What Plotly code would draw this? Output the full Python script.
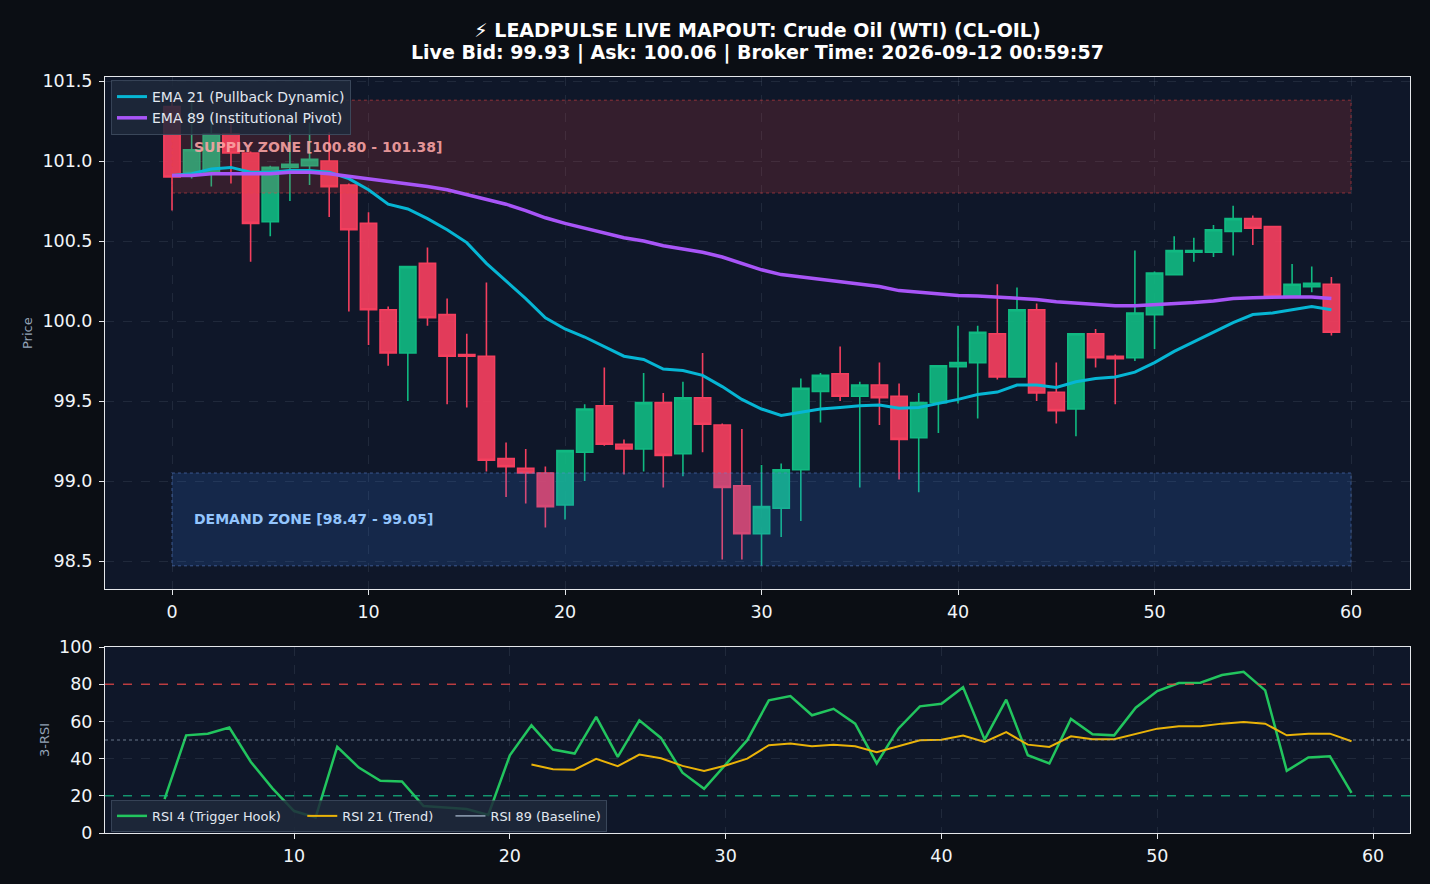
import plotly.graph_objects as go

# ---------------- data ----------------
bars = list(range(60))
opens = [101.34, 100.93, 100.93, 101.17, 101.05, 100.62, 100.96, 100.97, 101.00, 100.85,
         100.61, 100.07, 99.80, 100.36, 100.04, 99.79, 99.78, 99.14, 99.08, 99.05,
         98.85, 99.18, 99.47, 99.23, 99.20, 99.49, 99.17, 99.52, 99.35, 98.97,
         98.67, 98.83, 99.07, 99.56, 99.67, 99.53, 99.60, 99.53, 99.27, 99.49,
         99.715, 99.74, 99.92, 99.65, 100.07, 99.555, 99.45, 99.92, 99.78, 99.77,
         100.04, 100.29, 100.43, 100.43, 100.56, 100.64, 100.59, 100.15, 100.215, 100.23]
highs = [101.37, 101.38, 101.31, 101.25, 101.06, 100.97, 101.18, 101.24, 101.18, 100.86,
         100.68, 100.09, 100.34, 100.46, 100.14, 99.92, 100.24, 99.24, 99.20, 99.09,
         99.19, 99.48, 99.71, 99.26, 99.675, 99.55, 99.62, 99.80, 99.36, 99.325,
         99.10, 99.11, 99.64, 99.675, 99.84, 99.62, 99.74, 99.61, 99.55, 99.72,
         99.97, 99.97, 100.23, 100.21, 100.11, 99.74, 99.92, 99.95, 99.79, 100.44,
         100.31, 100.53, 100.52, 100.60, 100.72, 100.66, 100.59, 100.356, 100.34, 100.275]
lows = [100.69, 100.89, 100.84, 100.86, 100.37, 100.53, 100.75, 100.85, 100.65, 100.06,
        99.85, 99.72, 99.50, 99.97, 99.48, 99.46, 99.06, 98.90, 98.86, 98.71,
        98.76, 99.00, 99.22, 99.04, 99.06, 98.96, 99.03, 99.18, 98.51, 98.51,
        98.47, 98.65, 98.75, 99.365, 99.50, 98.96, 99.35, 99.01, 98.93, 99.30,
        99.485, 99.39, 99.635, 99.65, 99.50, 99.36, 99.28, 99.71, 99.48, 99.75,
        99.825, 100.29, 100.37, 100.40, 100.41, 100.475, 100.155, 100.15, 100.18, 99.91]
closes = [100.90, 101.07, 101.17, 101.05, 100.61, 100.96, 100.98, 101.01, 100.84, 100.57,
          100.07, 99.80, 100.34, 100.02, 99.78, 99.78, 99.13, 99.09, 99.05, 98.84,
          99.19, 99.45, 99.23, 99.20, 99.49, 99.16, 99.52, 99.355, 98.96, 98.67,
          98.84, 99.07, 99.58, 99.66, 99.53, 99.60, 99.52, 99.26, 99.49, 99.72,
          99.74, 99.93, 99.65, 100.07, 99.55, 99.44, 99.92, 99.77, 99.765, 100.05,
          100.30, 100.44, 100.44, 100.57, 100.64, 100.58, 100.16, 100.23, 100.235, 99.93]

ema21 = [100.91, 100.92, 100.95, 100.96, 100.93, 100.93, 100.94, 100.94, 100.93, 100.89,
         100.82, 100.73, 100.70, 100.64, 100.57, 100.49, 100.36, 100.25, 100.14, 100.02,
         99.95, 99.90, 99.84, 99.78, 99.76, 99.70, 99.69, 99.66, 99.59, 99.51,
         99.45, 99.41, 99.43, 99.45, 99.46, 99.47, 99.475, 99.455, 99.46, 99.485,
         99.51, 99.54, 99.556, 99.60, 99.60, 99.585, 99.62, 99.64, 99.65, 99.68,
         99.74, 99.81, 99.87, 99.93, 99.99, 100.04, 100.05, 100.07, 100.09, 100.07]
ema89 = [100.91, 100.91, 100.92, 100.92, 100.92, 100.92, 100.93, 100.93, 100.92, 100.905,
         100.89, 100.87, 100.86, 100.84, 100.82, 100.79, 100.76, 100.73, 100.69, 100.645,
         100.61, 100.58, 100.55, 100.52, 100.50, 100.47, 100.45, 100.43, 100.40, 100.36,
         100.32, 100.29, 100.275, 100.26, 100.245, 100.23, 100.215, 100.19, 100.18, 100.17,
         100.16, 100.156, 100.15, 100.146, 100.135, 100.12, 100.11, 100.10, 100.095, 100.095,
         100.10, 100.11, 100.115, 100.125, 100.14, 100.146, 100.15, 100.15, 100.15, 100.14]

supply_zone = [100.80, 101.38]
demand_zone = [98.47, 99.05]
zone_span = [0, 60]

rsi4_x = list(range(4, 60))
rsi4 = [18.2, 52.5, 53.4, 56.7, 38.2, 24.0, 11.8, 8.4, 46.3, 35.2,
        28.1, 27.7, 14.5, 13.8, 12.9, 9.7, 41.8, 57.9, 44.9, 42.7,
        62.4, 40.9, 60.6, 51.1, 32.4, 23.8, 37.0, 49.9, 71.3, 73.6,
        63.3, 66.8, 58.8, 37.4, 56.1, 68.1, 69.5, 78.4, 50.2, 71.7,
        41.8, 37.4, 61.3, 53.1, 52.5, 67.4, 76.3, 80.6, 80.8, 84.9,
        86.7, 76.7, 33.4, 40.6, 41.3, 21.6]
rsi21_x = list(range(21, 60))
rsi21 = [36.8, 34.3, 34.0, 39.9, 35.9, 42.2, 40.2, 36.1, 33.4, 36.3,
         40.0, 47.2, 48.1, 46.6, 47.4, 46.6, 43.4, 46.6, 49.9, 50.2,
         52.4, 49.0, 54.2, 47.5, 46.3, 52.0, 50.4, 50.4, 53.4, 56.1,
         57.4, 57.4, 58.8, 59.7, 58.8, 52.5, 53.4, 53.4, 49.3]
rsi89_x = [59]
rsi89 = [None]
rsi_levels = {"over": 80, "mid": 50, "under": 20}

title_line1 = "⚡ LEADPULSE LIVE MAPOUT: Crude Oil (WTI) (CL-OIL)"
title_line2 = "Live Bid: 99.93 | Ask: 100.06 | Broker Time: 2026-09-12 00:59:57"

# ---------------- figure ----------------
W, H = 1430, 884
PAPER = "#0b0e14"
PLOT = "#0f1729"
AXC = "#e5e7eb"
FONT = "DejaVu Sans"
NB = "\u00a0"

fig = go.Figure()

fig.add_trace(go.Candlestick(
    x=bars, open=opens, high=highs, low=lows, close=closes,
    increasing=dict(fillcolor="rgba(16,185,129,0.92)", line=dict(color="#10b981", width=1.6)),
    decreasing=dict(fillcolor="rgba(244,63,94,0.92)", line=dict(color="#f43f5e", width=1.6)),
    whiskerwidth=0, showlegend=False, xaxis="x", yaxis="y", hoverinfo="skip"))


def zone_trace(lo_hi, fill, line):
    lo, hi = lo_hi
    x0, x1 = zone_span
    return go.Scatter(x=[x0, x1, x1, x0, x0], y=[lo, lo, hi, hi, lo], mode="lines",
                      fill="toself", fillcolor=fill,
                      line=dict(color=line, width=1.5, dash="dot"),
                      showlegend=False, hoverinfo="skip", xaxis="x", yaxis="y")


fig.add_trace(zone_trace(supply_zone, "rgba(239,68,68,0.17)", "rgba(239,68,68,0.35)"))
fig.add_trace(zone_trace(demand_zone, "rgba(59,130,246,0.16)", "rgba(96,140,220,0.35)"))

fig.add_trace(go.Scatter(x=bars, y=ema21, mode="lines", name="EMA 21 (Pullback Dynamic)",
                         line=dict(color="#06b6d4", width=3), xaxis="x", yaxis="y"))
fig.add_trace(go.Scatter(x=bars, y=ema89, mode="lines", name="EMA 89 (Institutional Pivot)",
                         line=dict(color="#a855f7", width=3.5), xaxis="x", yaxis="y"))

# RSI panel
fig.add_trace(go.Scatter(x=rsi4_x, y=rsi4, mode="lines", name="RSI 4 (Trigger Hook)" + NB * 4,
                         line=dict(color="#22c55e", width=2.5), xaxis="x2", yaxis="y2", legend="legend2"))
fig.add_trace(go.Scatter(x=rsi21_x, y=rsi21, mode="lines", name="RSI 21 (Trend)" + NB * 3,
                         line=dict(color="#eab308", width=2), xaxis="x2", yaxis="y2", legend="legend2"))
fig.add_trace(go.Scatter(x=rsi89_x, y=rsi89, mode="lines", name="RSI 89 (Baseline)",
                         line=dict(color="#94a3b8", width=1.5), xaxis="x2", yaxis="y2", legend="legend2"))


def fx(px):
    return px / W


def fy(py):
    return 1 - py / H


axis_common = dict(showline=True, mirror=True, linecolor=AXC, linewidth=1,
                   ticks="outside", ticklen=5, tickcolor=AXC, tickwidth=1,
                   tickfont=dict(family=FONT, size=17.5, color="#f1f5f9"),
                   showgrid=True, gridcolor="rgba(148,163,184,0.13)", gridwidth=1, griddash="dash",
                   zeroline=False, automargin=False)

fig.update_layout(
    width=W, height=H, margin=dict(l=0, r=0, t=0, b=0, autoexpand=False),
    paper_bgcolor=PAPER, plot_bgcolor=PLOT,
    font=dict(family=FONT, color="#e5e7eb"),
    boxgap=0.1, boxgroupgap=0.08,
    title=dict(text=f"<b>{title_line1}</b>",
               x=fx(757.5), xanchor="center", y=fy(30), yanchor="middle",
               font=dict(family=FONT, size=19, color="#ffffff")),
    xaxis=dict(domain=[fx(105), fx(1410)], anchor="y", range=[-3.41, 63.0],
               tickmode="array", tickvals=[0, 10, 20, 30, 40, 50, 60], ticklabelstandoff=2,
               rangeslider=dict(visible=False), **axis_common),
    yaxis=dict(domain=[fy(589), fy(77)], anchor="x", range=[98.325, 101.525],
               tickmode="array", tickvals=[98.5, 99.0, 99.5, 100.0, 100.5, 101.0, 101.5],
               tickformat=".1f", ticklabelstandoff=3, **axis_common),
    xaxis2=dict(domain=[fx(105), fx(1410)], anchor="y2", range=[1.24, 61.71],
                tickmode="array", tickvals=[10, 20, 30, 40, 50, 60], ticklabelstandoff=2, **axis_common),
    yaxis2=dict(domain=[fy(833), fy(647)], anchor="x2", range=[0, 100],
                tickmode="array", tickvals=[0, 20, 40, 60, 80, 100], ticklabelstandoff=3, **axis_common),
    legend=dict(x=fx(111), y=fy(80), xanchor="left", yanchor="top",
                bgcolor="rgba(30,41,59,0.85)", bordercolor="rgba(71,85,105,0.7)", borderwidth=1,
                font=dict(family=FONT, size=14, color="#e2e8f0"), tracegroupgap=0,
                itemwidth=30),
    legend2=dict(x=fx(111), y=fy(800), xanchor="left", yanchor="top", orientation="h",
                 bgcolor="rgba(30,41,59,0.85)", bordercolor="rgba(71,85,105,0.7)", borderwidth=1,
                 font=dict(family=FONT, size=12.9, color="#e2e8f0"), itemwidth=30),
    showlegend=True,
)

fig.add_annotation(x=fx(757.5), y=fy(52), xref="paper", yref="paper", xanchor="center", yanchor="middle",
                   text=f"<b>{title_line2}</b>", showarrow=False,
                   font=dict(family=FONT, size=19, color="#ffffff"))

# RSI reference levels
level_styles = [(rsi_levels["over"], "rgba(239,68,68,0.75)", "dash"),
                (rsi_levels["mid"], "rgba(148,163,184,0.45)", "dot"),
                (rsi_levels["under"], "rgba(16,185,129,0.75)", "dash")]
for lvl, col, dash in level_styles:
    fig.add_shape(type="line", xref="x2 domain", yref="y2", x0=0, x1=1, y0=lvl, y1=lvl,
                  line=dict(color=col, width=1.5, dash=dash), layer="above")

# zone labels
fig.add_annotation(x=1, y=sum(supply_zone) / 2, xref="x", yref="y", xanchor="left", yanchor="middle",
                   text=f"<b>SUPPLY ZONE [{supply_zone[0]:.2f} - {supply_zone[1]:.2f}]</b>", showarrow=False,
                   font=dict(family=FONT, size=14, color="rgba(252,165,165,0.9)"))
fig.add_annotation(x=1, y=sum(demand_zone) / 2, xref="x", yref="y", xanchor="left", yanchor="middle",
                   text=f"<b>DEMAND ZONE [{demand_zone[0]:.2f} - {demand_zone[1]:.2f}]</b>", showarrow=False,
                   font=dict(family=FONT, size=14, color="#93c5fd"))

# axis titles
fig.add_annotation(x=fx(27), y=fy(333), xref="paper", yref="paper", xanchor="center", yanchor="middle",
                   text="Price", textangle=-90,
                   showarrow=False, font=dict(family=FONT, size=13, color="#94a3b8"))
fig.add_annotation(x=fx(44), y=fy(740), xref="paper", yref="paper", xanchor="center", yanchor="middle",
                   text="3-RSI", textangle=-90,
                   showarrow=False, font=dict(family=FONT, size=13, color="#94a3b8"))

fig.write_html("out.html")
